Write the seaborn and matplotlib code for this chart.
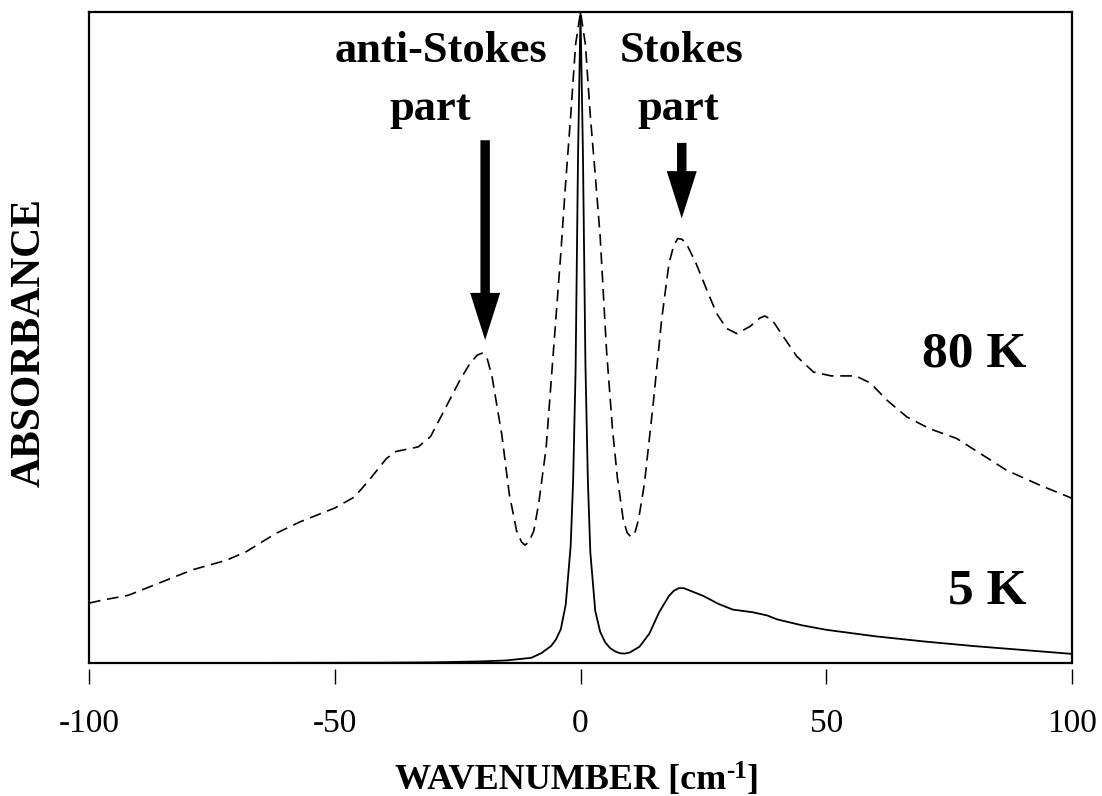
import numpy as np
import pandas as pd
import matplotlib
matplotlib.use("Agg")
import matplotlib.pyplot as plt
import seaborn as sns

# Spectrum at 5 K (solid line)
wn_5k = [-100, -80, -60, -40, -30, -20, -15, -10, -8, -6, -5, -4, -3, -2, -1.5, -1,
         -0.5, 0, 0.5, 1, 1.5, 2, 3, 4, 5, 6, 7, 8, 9, 10, 12, 14, 16, 18, 19, 20, 21,
         22, 25, 28, 31, 35, 38, 40, 45, 50, 55, 60, 70, 80, 90, 100]
abs_5k = [0.0, 0.0, 0.02, 0.05, 0.1, 0.25, 0.4, 0.8, 1.5, 2.6, 3.6, 5.2, 9.0, 18, 28, 45,
          78, 100, 78, 46, 28, 17, 8, 4.8, 3.2, 2.3, 1.8, 1.5, 1.45, 1.6, 2.5, 4.5, 7.8,
          10.3, 11.1, 11.5, 11.5, 11.2, 10.3, 9.1, 8.2, 7.8, 7.3, 6.7, 5.8, 5.1, 4.6,
          4.1, 3.3, 2.6, 2.0, 1.4]

# Spectrum at 80 K (dashed line)
wn_80k = [-100, -97, -92, -86, -79, -72, -68, -62, -57, -50, -46, -43, -39.5, -37.5, -33,
          -30.5, -28, -24.5, -22.5, -21, -20, -19, -18, -16, -14.5, -13, -12, -11.3,
          -10.5, -9.5, -8.5, -7, -5.5, -4, -3, -2, -1, 0, 1, 2, 3, 4, 5.3, 6.5, 7.5, 8.7,
          9.5, 10.2, 11, 11.8, 13, 14.8, 16.5, 18, 19, 19.8, 20.6, 21.5, 23.5, 25.7,
          27.7, 29.7, 31.8, 34.5, 36.5, 37.5, 39, 41.3, 44, 47.4, 51, 56, 59, 62.3,
          66.4, 71, 76.5, 81.3, 86.7, 93.5, 100]
abs_80k = [9.2, 9.7, 10.4, 12.2, 14.3, 15.8, 17.1, 19.9, 21.7, 23.8, 25.5, 28.1, 31.4,
           32.5, 33.2, 34.8, 38.4, 43.5, 46.0, 47.3, 47.6, 46.8, 44, 35, 26, 20.3, 18.6,
           18.1, 18.6, 20.3, 24.5, 33, 48, 63, 74, 84, 95, 100, 95, 84, 75, 65.5, 48, 36,
           28.5, 22, 20.0, 19.4, 19.8, 22.0, 27.5, 39.9, 52.7, 61.4, 64.2, 65.2, 65.1,
           64.5, 61.4, 57.3, 53.7, 51.4, 50.6, 51.7, 53.0, 53.3, 52.7, 50.1, 47.1, 44.7,
           44.1, 44.1, 43.0, 40.4, 37.8, 36.0, 34.5, 32.2, 29.6, 27.3, 25.3]

x_ticks = [-100, -50, 0, 50, 100]

sns.set_theme(style="white")
plt.rcParams["font.family"] = ["Liberation Serif", "DejaVu Serif"]
plt.rcParams["axes.unicode_minus"] = False
plt.rcParams["xtick.bottom"] = True
plt.rcParams["xtick.major.size"] = 10.5

df5 = pd.DataFrame({"wn": wn_5k, "a": abs_5k})
df80 = pd.DataFrame({"wn": wn_80k, "a": abs_80k})

fig = plt.figure(figsize=(11.02, 7.96), dpi=100)
ax = fig.add_axes([89 / 1102, 133 / 796, 983 / 1102, 651 / 796])

sns.lineplot(data=df80, x="wn", y="a", ax=ax, color="black", lw=1.2,
             linestyle=(0, (7, 4)), estimator=None)
sns.lineplot(data=df5, x="wn", y="a", ax=ax, color="black", lw=1.3, estimator=None)

ax.set_xlim(-100, 100)
ax.set_ylim(0, 100)
ax.set_xlabel("")
ax.set_ylabel("")
ax.tick_params(bottom=False, labelbottom=False, left=False, labelleft=False)
for sp in ax.spines.values():
    sp.set_visible(True)
    sp.set_color("black")
    sp.set_linewidth(1.6)

# Tick marks sit slightly below the frame
sec = ax.secondary_xaxis(-6 / 651)
sec.spines["bottom"].set_visible(False)
sec.xaxis.set_ticks_position("bottom")
sec.set_xticks(x_ticks)
sec.set_xticklabels([str(t) for t in x_ticks])
sec.tick_params(axis="x", which="major", bottom=True, direction="out", length=10.5,
                width=1.0, color="black", labelsize=24, pad=18, labelcolor="black")
for tk in sec.xaxis.get_major_ticks():
    tk.tick1line.set_visible(True)
    tk.tick1line.set_markersize(10.5)
    tk.tick1line.set_markeredgewidth(1.0)
    tk.tick1line.set_color("black")

# Arrows marking the phonon side bands
arrow_style = "simple,head_length=1.7,head_width=1.08,tail_width=0.34"
ax.annotate("", xy=(-19.4, 49.6), xytext=(-19.4, 80.3),
            arrowprops=dict(arrowstyle=arrow_style, mutation_scale=20, color="black",
                            lw=0, shrinkA=0, shrinkB=0))
ax.annotate("", xy=(20.6, 68.3), xytext=(20.6, 79.9),
            arrowprops=dict(arrowstyle=arrow_style, mutation_scale=20, color="black",
                            lw=0, shrinkA=0, shrinkB=0))

bold = dict(fontweight="bold", color="black", va="baseline", ha="center")
ax.text(-28.4, 92.3, "anti-Stokes", fontsize=32, **bold)
ax.text(-30.5, 83.4, "part", fontsize=32, **bold)
ax.text(20.6, 92.3, "Stokes", fontsize=32, **bold)
ax.text(19.8, 83.4, "part", fontsize=32, **bold)
ax.text(90.8, 45.6, "80 K", fontsize=37, fontweight="bold", color="black",
        va="baseline", ha="right")
ax.text(90.8, 9.2, "5 K", fontsize=37, fontweight="bold", color="black",
        va="baseline", ha="right")

# Axis title with a raised "-1" exponent
main_lbl = fig.text(395 / 1102, 7 / 796, "WAVENUMBER [cm", fontsize=26,
                    fontweight="bold", ha="left", va="baseline", color="black")
fig.canvas.draw()
bb = main_lbl.get_window_extent()
sup = fig.text(bb.x1 / 1102, 18 / 796, "-1", fontsize=18, fontweight="bold",
               ha="left", va="baseline", color="black")
fig.canvas.draw()
bb2 = sup.get_window_extent()
fig.text(bb2.x1 / 1102, 7 / 796, "]", fontsize=26, fontweight="bold",
         ha="left", va="baseline", color="black")

fig.text(30 / 1102, 1 - 342.5 / 796, "ABSORBANCE", fontsize=30, fontweight="bold",
         rotation=90, ha="center", va="center", color="black")

fig.savefig("out.png", dpi=100, facecolor="white")
